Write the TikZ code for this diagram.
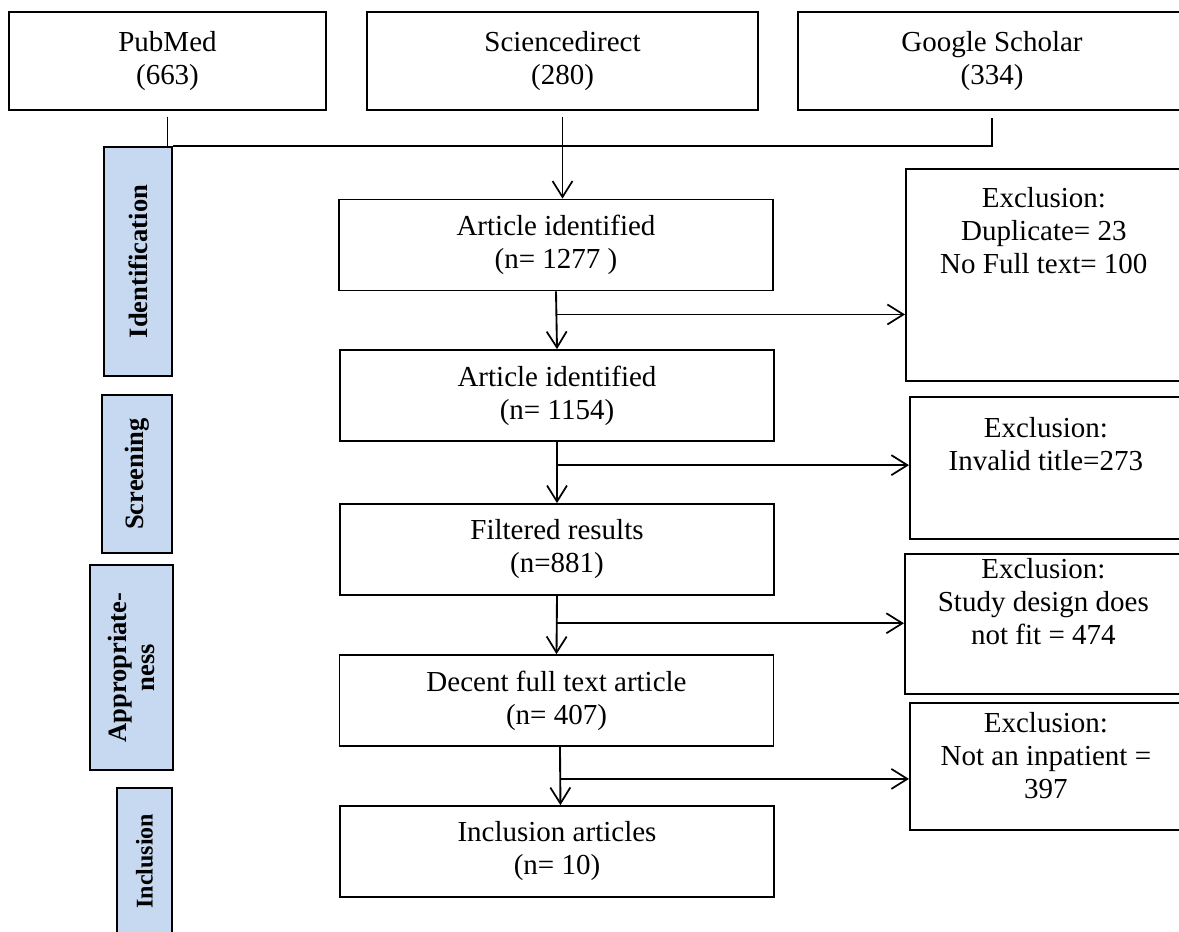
\documentclass[tikz,border=0pt]{standalone}
\usepackage{fontspec}
\setmainfont{Liberation Serif}
\usetikzlibrary{arrows.meta,calc}
\definecolor{sideblue}{HTML}{C6D9F1}
\newcommand\mainfs{\fontsize{21.75}{24.75}\selectfont}
\newcommand\sidefs{\fontsize{19.9}{21}\selectfont\bfseries}
\begin{document}
\begin{tikzpicture}[x=0.75pt,y=-0.75pt,
  srcbox/.style={draw, line width=1pt, align=center, inner sep=0pt, font=\mainfs, minimum height=73.5pt},
  mainbox/.style={draw, line width=1.3pt, align=center, inner sep=0pt, font=\mainfs, minimum width=325.5pt, minimum height=68.25pt},
  exbox/.style={draw, line width=1.3pt, inner sep=0pt, anchor=north west},
  extext/.style={align=center, inner sep=0pt, font=\mainfs, anchor=north},
  sidebox/.style={draw, line width=1.3pt, fill=sideblue, align=center, inner sep=0pt, font=\sidefs, rotate=90},
  conn/.style={line width=1.4pt},
  arr/.style={-{Straight Barb[length=12pt,width=15pt,line width=1.3pt]}}]
\useasboundingbox (0,0) rectangle (1179,932);

% source boxes
\node (pm) [srcbox, minimum width=237.75pt] at (167.5,61) {PubMed\\(663)};
\node (sd) [srcbox, minimum width=293.25pt] at (562.5,61) {Sciencedirect\\(280)};
\node (gs) [srcbox, minimum width=291pt] at (992,61) {Google Scholar\\(334)};

% side labels
\node (sid) [sidebox, minimum width=171.75pt, minimum height=51pt] at (138,261.5) {Identification};
\node (ssc) [sidebox, minimum width=118.5pt, minimum height=52.5pt] at (137,474) {Screening};
\node (sap) [sidebox, minimum width=153.75pt, minimum height=62.25pt] at (131.5,667.5) {Appropriate-\\ness};
\node (sin) [sidebox, minimum width=109.5pt, minimum height=41.25pt, font=\fontsize{18}{20}\selectfont\bfseries] at (144.5,861) {Inclusion};

% main boxes
\node (b1) [mainbox] at (556,245) {Article identified\\(n= 1277 )};
\node (b2) [mainbox] at (557,395.5) {Article identified\\(n= 1154)};
\node (b3) [mainbox] at (557,549.5) {Filtered results\\(n=881)};
\node (b4) [mainbox] at (556.5,700.5) {Decent full text article\\(n= 407)};
\node (b5) [mainbox] at (557,851.5) {Inclusion articles\\(n= 10)};

% exclusion boxes
\node (e1) [exbox, minimum width=207pt, minimum height=159pt] at (905,168) {};
\node (e2) [exbox, minimum width=204pt, minimum height=106.5pt] at (909,396) {};
\node (e3) [exbox, minimum width=207.75pt, minimum height=105pt] at (904,553) {};
\node (e4) [exbox, minimum width=204pt, minimum height=95.25pt] at (909,702) {};
\node (e1t) [extext] at ([yshift=-14pt]e1.north) {Exclusion:\\Duplicate= 23\\No Full text= 100};
\node (e2t) [extext] at ([yshift=-15.5pt]e2.north) {Exclusion:\\Invalid title=273};
\node (e3t) [extext] at ([yshift=-3.5pt]e3.north) {Exclusion:\\Study design does\\not fit = 474};
\node (e4t) [extext] at ([yshift=-7.5pt]e4.north) {Exclusion:\\Not an inpatient =\\397};

% top connectors
\draw[conn] ([yshift=-4.5pt]pm.south) -- (pm.south |- sid.east);
\draw[conn] (sid.south east) -- (gs.south |- sid.east) -- ([yshift=-5.25pt]gs.south);
\draw[conn, arr] ([yshift=-4.5pt]sd.south) -- (sd.south |- b1.north);

% main flow
\draw[conn, arr] (b1.south) -- (b2.north);
\draw[conn, arr] (b2.south) -- (b3.north);
\draw[conn, arr] (b3.south) -- (b4.north);
\draw[conn, arr] ([xshift=2.6pt]b4.south) -- ([xshift=2.6pt]b5.north);

% branches
\coordinate (j1) at ($(b1.south)!0.4!(b2.north)$);
\coordinate (j2) at ($(b2.south)!0.38!(b3.north)$);
\coordinate (j3) at ($(b3.south)!0.47!(b4.north)$);
\coordinate (j4) at ($([xshift=2.6pt]b4.south)!0.55!([xshift=2.6pt]b5.north)$);
\draw[conn, arr] (j1) -- (j1 -| e1.west);
\draw[conn, arr] (j2) -- (j2 -| e2.west);
\draw[conn, arr] (j3) -- (j3 -| e3.west);
\draw[conn, arr] (j4) -- (j4 -| e4.west);
\end{tikzpicture}
\end{document}
